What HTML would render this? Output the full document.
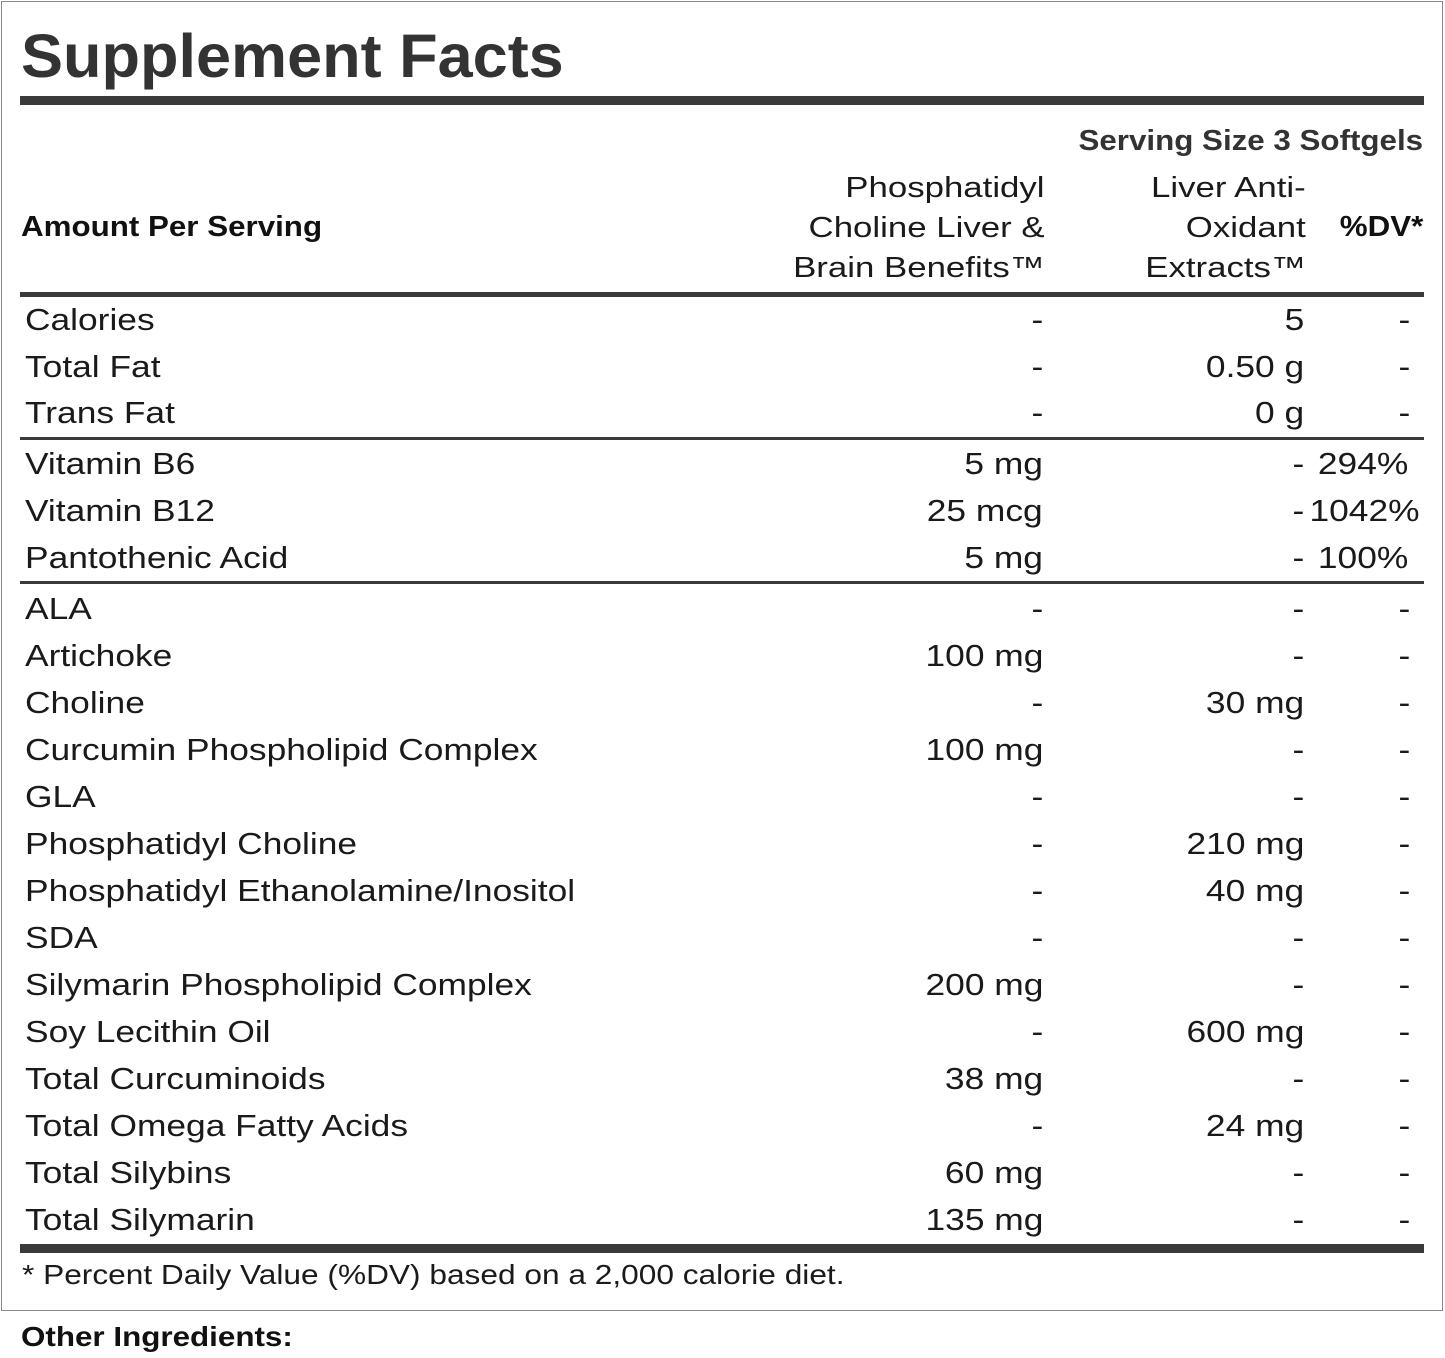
<!DOCTYPE html>
<html><head><meta charset="utf-8"><style>
body{margin:0;width:1445px;height:1358px;background:#fff;position:relative;font-family:"Liberation Sans",Arial,sans-serif;color:#1a1a1a;overflow:hidden}
.a{position:absolute;white-space:nowrap}
.L{transform-origin:left center}
.R{transform-origin:right center}
.box{position:absolute;left:1px;top:1px;width:1440px;height:1308px;border:1px solid #888}
.bar{position:absolute;left:20px;width:1404px;background:#3a3a3a}
.r{font-size:31px;line-height:36px}
.n{left:25px;transform:scaleX(1.14);transform-origin:left center}
.v{transform:scaleX(1.14);transform-origin:right center;text-align:right}
.h{font-size:29px;line-height:40px;text-align:right;transform:scaleX(1.2);transform-origin:right center}
</style></head><body>
<div class="box"></div>
<div class="a L" style="left:21px;top:20px;font-size:61px;font-weight:bold;color:#333;line-height:72px;transform:scaleX(1.033)">Supplement Facts</div>
<div class="bar" style="top:96px;height:9px"></div>
<div class="a R" style="right:22px;top:125px;font-size:29px;font-weight:bold;color:#333;transform:scaleX(1.08)">Serving Size 3 Softgels</div>
<div class="a L" style="left:21px;top:211px;font-size:29px;font-weight:bold;color:#111;transform:scaleX(1.08)">Amount Per Serving</div>
<div class="a h" style="right:400px;top:168px">Phosphatidyl<br>Choline Liver &amp;<br>Brain Benefits™</div>
<div class="a h" style="right:139px;top:168px">Liver Anti-<br>Oxidant<br>Extracts™</div>
<div class="a R" style="right:22px;top:211px;font-size:29px;font-weight:bold;color:#111;transform:scaleX(1.08)">%DV*</div>
<div class="bar" style="top:292px;height:5px"></div>
<div class="bar" style="top:437px;height:3px"></div>
<div class="bar" style="top:581px;height:3px"></div>
<div class="bar" style="top:1244px;height:9px"></div>
<div class="a L" style="left:22px;top:1259px;font-size:28px;transform:scaleX(1.13)">* Percent Daily Value (%DV) based on a 2,000 calorie diet.</div>
<div class="a L" style="left:21px;top:1321px;font-size:28px;font-weight:bold;color:#111;transform:scaleX(1.12)">Other Ingredients:</div>
<div id="rows"></div>
<script>
var d=[[320,"Calories","-","5","-"],[367,"Total Fat","-","0.50 g","-"],[413,"Trans Fat","-","0 g","-"],
[464,"Vitamin B6","5 mg","-","294%"],[511,"Vitamin B12","25 mcg","-","1042%"],[558,"Pantothenic Acid","5 mg","-","100%"],
[609,"ALA","-","-","-"],[656,"Artichoke","100 mg","-","-"],[703,"Choline","-","30 mg","-"],[750,"Curcumin Phospholipid Complex","100 mg","-","-"],
[797,"GLA","-","-","-"],[844,"Phosphatidyl Choline","-","210 mg","-"],[891,"Phosphatidyl Ethanolamine/Inositol","-","40 mg","-"],
[938,"SDA","-","-","-"],[985,"Silymarin Phospholipid Complex","200 mg","-","-"],[1032,"Soy Lecithin Oil","-","600 mg","-"],
[1079,"Total Curcuminoids","38 mg","-","-"],[1126,"Total Omega Fatty Acids","-","24 mg","-"],[1173,"Total Silybins","60 mg","-","-"],[1220,"Total Silymarin","135 mg","-","-"]];
var h="";d.forEach(function(r){var t=r[0]-18;
var c3=r[4]=="-"?'right:35px':(r[4]=="1042%"?'right:25px':'right:37px');
h+='<div class="a r n" style="top:'+t+'px">'+r[1]+'</div><div class="a r v" style="right:402px;top:'+t+'px">'+r[2]+'</div><div class="a r v" style="right:141px;top:'+t+'px">'+r[3]+'</div><div class="a r v" style="'+c3+';top:'+t+'px">'+r[4]+'</div>';});
document.getElementById("rows").innerHTML=h;
</script>
</body></html>
